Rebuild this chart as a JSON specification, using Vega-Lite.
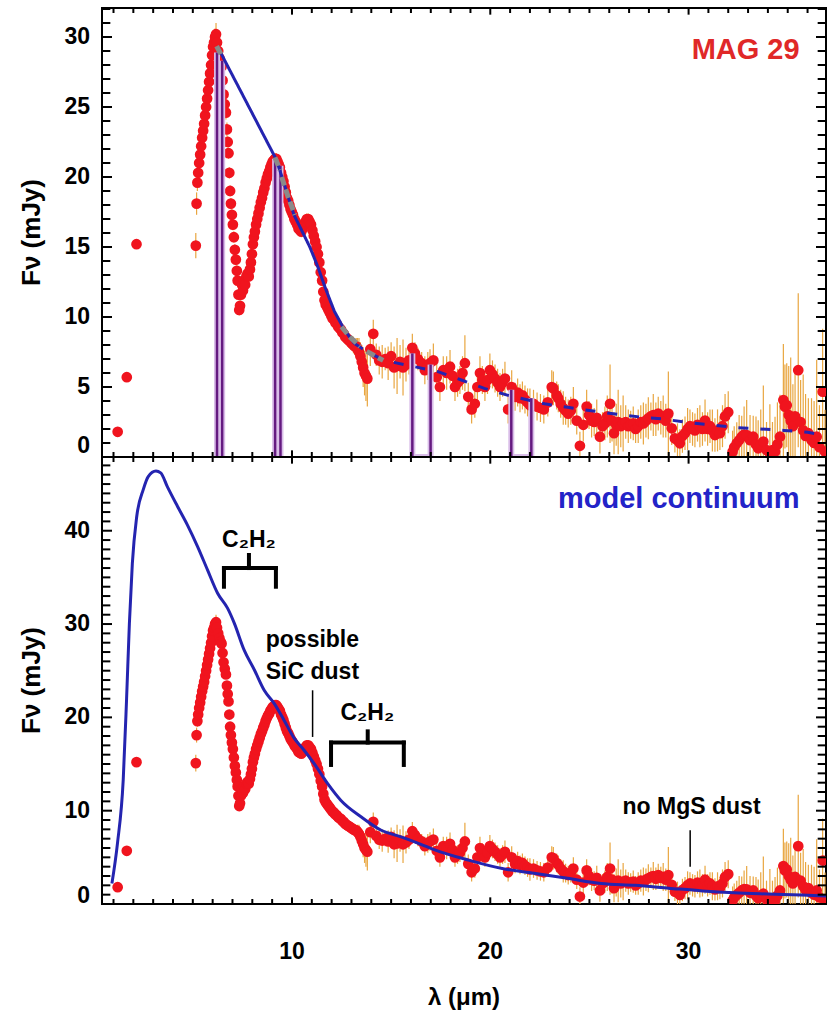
{
  "$schema": "https://vega.github.io/schema/vega-lite/v6.json",
  "padding": {"left": 18, "top": 7, "right": 0, "bottom": 0},
  "spacing": 0,
  "bounds": "flush",
  "datasets": {
    "spec": [
      {"lam":1.21,"F":1.8,"err":0.1},{"lam":1.67,"F":5.7,"err":0.1},{"lam":2.16,"F":15.2,"err":0.1},
      {"lam":5.15,"F":15.1,"err":0.9},{"lam":5.19,"F":18.1,"err":0.8},{"lam":5.23,"F":19.6,"err":0.6},{"lam":5.27,"F":20.3,"err":0.5},{"lam":5.32,"F":21.0,"err":0.4},{"lam":5.37,"F":21.6,"err":0.4},{"lam":5.42,"F":22.2,"err":0.4},{"lam":5.47,"F":22.8,"err":0.4},{"lam":5.52,"F":23.3,"err":0.4},{"lam":5.57,"F":23.8,"err":0.4},{"lam":5.62,"F":24.4,"err":0.4},{"lam":5.67,"F":25.0,"err":0.4},{"lam":5.72,"F":25.6,"err":0.4},{"lam":5.77,"F":26.2,"err":0.4},{"lam":5.82,"F":26.8,"err":0.4},{"lam":5.87,"F":27.4,"err":0.4},{"lam":5.92,"F":28.0,"err":0.4},{"lam":5.97,"F":28.7,"err":0.4},{"lam":6.02,"F":29.3,"err":0.5},{"lam":6.07,"F":29.6,"err":0.5},{"lam":6.12,"F":30.0,"err":0.6},{"lam":6.17,"F":30.2,"err":0.8},{"lam":6.22,"F":29.6,"err":0.6},{"lam":6.28,"F":29.0,"err":0.5},{"lam":6.34,"F":28.5,"err":0.5},{"lam":6.40,"F":28.1,"err":0.5},{"lam":6.45,"F":27.9,"err":0.5},{"lam":6.50,"F":26.9,"err":0.5},{"lam":6.55,"F":25.9,"err":0.5},{"lam":6.61,"F":25.2,"err":0.5},{"lam":6.67,"F":24.6,"err":0.5},{"lam":6.72,"F":23.4,"err":0.5},{"lam":6.76,"F":22.5,"err":0.4},{"lam":6.80,"F":21.7,"err":0.4},{"lam":6.84,"F":20.3,"err":0.4},{"lam":6.88,"F":19.0,"err":0.4},{"lam":6.92,"F":18.1,"err":0.4},{"lam":6.97,"F":17.3,"err":0.4},{"lam":7.02,"F":16.6,"err":0.4},{"lam":7.07,"F":15.7,"err":0.4},{"lam":7.12,"F":14.8,"err":0.4},{"lam":7.17,"F":14.1,"err":0.4},{"lam":7.22,"F":13.3,"err":0.4},{"lam":7.26,"F":12.6,"err":0.4},{"lam":7.30,"F":11.6,"err":0.4},{"lam":7.34,"F":10.5,"err":0.4},{"lam":7.38,"F":10.8,"err":0.4},{"lam":7.43,"F":11.6,"err":0.4},{"lam":7.48,"F":12.3,"err":0.4},{"lam":7.53,"F":11.9,"err":0.4},{"lam":7.58,"F":12.6,"err":0.4},{"lam":7.64,"F":12.3,"err":0.4},{"lam":7.70,"F":12.9,"err":0.4},{"lam":7.76,"F":13.1,"err":0.4},{"lam":7.82,"F":12.9,"err":0.4},{"lam":7.88,"F":13.4,"err":0.4},{"lam":7.93,"F":13.9,"err":0.4},{"lam":7.98,"F":14.5,"err":0.4},{"lam":8.03,"F":15.2,"err":0.4},{"lam":8.08,"F":15.7,"err":0.4},{"lam":8.13,"F":16.1,"err":0.4},{"lam":8.19,"F":16.6,"err":0.4},{"lam":8.25,"F":17.0,"err":0.4},{"lam":8.31,"F":17.4,"err":0.4},{"lam":8.37,"F":17.8,"err":0.4},{"lam":8.43,"F":18.2,"err":0.4},{"lam":8.49,"F":18.5,"err":0.4},{"lam":8.55,"F":18.9,"err":0.4},{"lam":8.61,"F":19.2,"err":0.4},{"lam":8.67,"F":19.6,"err":0.4},{"lam":8.73,"F":19.9,"err":0.4},{"lam":8.79,"F":20.2,"err":0.4},{"lam":8.85,"F":20.4,"err":0.4},{"lam":8.91,"F":20.7,"err":0.4},{"lam":8.97,"F":20.9,"err":0.4},{"lam":9.03,"F":21.1,"err":0.4},{"lam":9.09,"F":21.2,"err":0.4},{"lam":9.15,"F":21.3,"err":0.4},{"lam":9.21,"F":21.3,"err":0.4},{"lam":9.27,"F":21.1,"err":0.4},{"lam":9.33,"F":20.9,"err":0.4},{"lam":9.39,"F":20.7,"err":0.4},{"lam":9.45,"F":20.3,"err":0.4},{"lam":9.51,"F":20.0,"err":0.4},{"lam":9.57,"F":19.7,"err":0.4},{"lam":9.63,"F":19.3,"err":0.4},{"lam":9.69,"F":18.9,"err":0.4},{"lam":9.75,"F":18.5,"err":0.4},{"lam":9.81,"F":18.3,"err":0.4},{"lam":9.87,"F":18.0,"err":0.4},{"lam":9.93,"F":17.7,"err":0.4},{"lam":9.99,"F":17.5,"err":0.4},{"lam":10.05,"F":17.3,"err":0.4},{"lam":10.12,"F":17.0,"err":0.4},{"lam":10.19,"F":16.8,"err":0.4},{"lam":10.26,"F":16.6,"err":0.4},{"lam":10.33,"F":16.3,"err":0.4},{"lam":10.40,"F":16.2,"err":0.4},{"lam":10.47,"F":16.1,"err":0.4},{"lam":10.54,"F":16.3,"err":0.4},{"lam":10.61,"F":16.6,"err":0.4},{"lam":10.68,"F":16.8,"err":0.4},{"lam":10.75,"F":17.0,"err":0.4},{"lam":10.82,"F":17.0,"err":0.4},{"lam":10.89,"F":16.8,"err":0.4},{"lam":10.96,"F":16.6,"err":0.4},{"lam":11.03,"F":16.2,"err":0.4},{"lam":11.10,"F":15.8,"err":0.4},{"lam":11.17,"F":15.4,"err":0.4},{"lam":11.24,"F":15.0,"err":0.4},{"lam":11.31,"F":14.5,"err":0.4},{"lam":11.38,"F":13.9,"err":0.4},{"lam":11.45,"F":13.2,"err":0.4},{"lam":11.52,"F":12.6,"err":0.4},{"lam":11.58,"F":11.8,"err":0.4},{"lam":11.64,"F":11.2,"err":0.4},{"lam":11.70,"F":10.9,"err":0.4},{"lam":11.77,"F":10.7,"err":0.4},{"lam":11.84,"F":10.5,"err":0.4},{"lam":11.91,"F":10.3,"err":0.4},{"lam":11.98,"F":10.1,"err":0.4},{"lam":12.05,"F":9.9,"err":0.4},{"lam":12.12,"F":9.8,"err":0.4},{"lam":12.19,"F":9.6,"err":0.4},{"lam":12.26,"F":9.5,"err":0.4},{"lam":12.33,"F":9.3,"err":0.4},{"lam":12.40,"F":9.2,"err":0.5},{"lam":12.47,"F":9.1,"err":0.5},{"lam":12.54,"F":8.9,"err":0.5},{"lam":12.61,"F":8.8,"err":0.5},{"lam":12.68,"F":8.6,"err":0.5},{"lam":12.75,"F":8.5,"err":0.5},{"lam":12.82,"F":8.4,"err":0.5},{"lam":12.89,"F":8.3,"err":0.5},{"lam":12.96,"F":8.2,"err":0.5},{"lam":13.03,"F":8.1,"err":0.5},{"lam":13.10,"F":8.0,"err":0.6},{"lam":13.17,"F":7.9,"err":0.6},{"lam":13.24,"F":7.9,"err":0.6},{"lam":13.31,"F":7.7,"err":0.8},{"lam":13.38,"F":7.5,"err":1.0},{"lam":13.45,"F":7.2,"err":1.0},{"lam":13.52,"F":6.8,"err":1.2},{"lam":13.59,"F":6.4,"err":1.4},{"lam":13.66,"F":6.0,"err":1.6},{"lam":13.73,"F":5.8,"err":1.8},{"lam":13.80,"F":5.6,"err":2.0},
      {"lam":13.95,"F":7.7,"err":1.2},{"lam":14.10,"F":8.8,"err":1.0},{"lam":14.25,"F":7.3,"err":0.8},{"lam":14.40,"F":6.9,"err":1.0},{"lam":14.55,"F":6.8,"err":1.2},{"lam":14.70,"F":7.0,"err":0.8},{"lam":14.85,"F":6.7,"err":1.2},{"lam":15.00,"F":7.2,"err":1.0},{"lam":15.15,"F":6.4,"err":1.5},{"lam":15.30,"F":6.5,"err":2.0},{"lam":15.45,"F":6.8,"err":1.2},{"lam":15.60,"F":6.4,"err":2.0},{"lam":15.75,"F":6.6,"err":1.2},{"lam":15.90,"F":6.9,"err":1.0},{"lam":16.07,"F":7.8,"err":1.0},{"lam":16.20,"F":7.4,"err":0.8},{"lam":16.35,"F":7.0,"err":0.8},{"lam":16.54,"F":6.7,"err":0.8},{"lam":16.70,"F":6.2,"err":1.0},{"lam":16.85,"F":6.5,"err":1.0},{"lam":16.96,"F":6.7,"err":1.0},{"lam":17.13,"F":6.9,"err":1.2},{"lam":17.30,"F":5.7,"err":1.0},{"lam":17.46,"F":5.0,"err":1.0},{"lam":17.63,"F":6.2,"err":1.0},{"lam":17.80,"F":6.0,"err":1.2},{"lam":17.97,"F":6.45,"err":1.2},{"lam":18.10,"F":5.8,"err":1.0},{"lam":18.22,"F":5.0,"err":1.0},{"lam":18.35,"F":5.3,"err":1.0},{"lam":18.47,"F":5.5,"err":1.0},{"lam":18.60,"F":6.0,"err":1.2},{"lam":18.72,"F":6.7,"err":2.0},{"lam":18.89,"F":4.3,"err":1.0},{"lam":19.06,"F":3.4,"err":1.0},{"lam":19.22,"F":3.8,"err":1.0},{"lam":19.35,"F":5.0,"err":1.0},{"lam":19.48,"F":6.0,"err":1.2},{"lam":19.60,"F":5.5,"err":1.0},{"lam":19.73,"F":5.0,"err":1.0},{"lam":19.86,"F":5.5,"err":1.0},{"lam":19.98,"F":6.2,"err":1.2},{"lam":20.11,"F":5.9,"err":1.0},{"lam":20.24,"F":5.6,"err":1.0},{"lam":20.37,"F":5.3,"err":1.0},{"lam":20.49,"F":5.0,"err":1.0},{"lam":20.62,"F":5.3,"err":1.0},{"lam":20.74,"F":5.6,"err":1.2},{"lam":20.90,"F":3.4,"err":1.0},{"lam":21.08,"F":5.0,"err":1.2},{"lam":21.25,"F":4.3,"err":1.0},{"lam":21.38,"F":4.6,"err":1.0},{"lam":21.50,"F":4.2,"err":1.0},{"lam":21.62,"F":4.4,"err":1.0},{"lam":21.75,"F":4.1,"err":1.0},{"lam":21.88,"F":3.9,"err":1.0},{"lam":22.00,"F":3.7,"err":1.2},{"lam":22.18,"F":3.8,"err":1.0},{"lam":22.36,"F":3.6,"err":1.0},{"lam":22.53,"F":3.5,"err":1.0},{"lam":22.70,"F":3.4,"err":1.0},{"lam":22.90,"F":3.9,"err":1.0},{"lam":23.10,"F":5.0,"err":1.2},{"lam":23.18,"F":4.9,"err":1.2},{"lam":23.35,"F":4.4,"err":1.0},{"lam":23.43,"F":4.2,"err":1.0},{"lam":23.55,"F":3.8,"err":1.0},{"lam":23.68,"F":3.5,"err":1.2},{"lam":23.80,"F":3.3,"err":1.0},{"lam":23.93,"F":3.1,"err":1.0},{"lam":24.06,"F":3.3,"err":1.0},{"lam":24.19,"F":3.8,"err":1.2},{"lam":24.36,"F":2.6,"err":1.0},{"lam":24.52,"F":0.8,"err":1.0},{"lam":24.69,"F":2.3,"err":1.2},{"lam":24.86,"F":3.6,"err":1.2},{"lam":24.98,"F":3.0,"err":1.0},{"lam":25.11,"F":2.6,"err":1.2},{"lam":25.24,"F":2.5,"err":1.0},{"lam":25.37,"F":2.8,"err":1.3},{"lam":25.53,"F":1.45,"err":1.2},{"lam":25.66,"F":2.2,"err":1.0},{"lam":25.78,"F":2.4,"err":1.2},{"lam":25.90,"F":2.9,"err":1.5},{"lam":26.04,"F":3.8,"err":2.8},{"lam":26.14,"F":2.6,"err":1.5},{"lam":26.24,"F":1.7,"err":1.5},{"lam":26.35,"F":2.3,"err":1.5},{"lam":26.45,"F":2.5,"err":2.3},{"lam":26.58,"F":2.2,"err":1.5},{"lam":26.70,"F":2.4,"err":2.0},{"lam":26.83,"F":2.5,"err":1.2},{"lam":26.96,"F":2.2,"err":1.2},{"lam":27.08,"F":2.3,"err":1.0},{"lam":27.21,"F":2.4,"err":1.2},{"lam":27.33,"F":2.0,"err":1.0},{"lam":27.46,"F":2.2,"err":1.2},{"lam":27.59,"F":2.5,"err":1.2},{"lam":27.72,"F":2.4,"err":1.5},{"lam":27.85,"F":2.6,"err":1.2},{"lam":27.97,"F":2.76,"err":1.5},{"lam":28.10,"F":2.9,"err":1.0},{"lam":28.22,"F":3.0,"err":1.5},{"lam":28.35,"F":2.7,"err":1.2},{"lam":28.47,"F":3.1,"err":1.2},{"lam":28.60,"F":2.8,"err":1.2},{"lam":28.72,"F":2.9,"err":1.5},{"lam":28.85,"F":2.6,"err":1.2},{"lam":28.98,"F":3.1,"err":3.0},{"lam":29.15,"F":2.05,"err":1.2},{"lam":29.31,"F":1.33,"err":1.0},{"lam":29.44,"F":1.2,"err":1.2},{"lam":29.56,"F":0.98,"err":1.0},{"lam":29.69,"F":1.5,"err":1.2},{"lam":29.82,"F":1.7,"err":1.2},{"lam":29.95,"F":2.0,"err":1.5},{"lam":30.07,"F":2.2,"err":1.2},{"lam":30.20,"F":2.0,"err":1.2},{"lam":30.32,"F":1.9,"err":1.2},{"lam":30.45,"F":2.3,"err":1.2},{"lam":30.57,"F":2.2,"err":1.5},{"lam":30.70,"F":2.0,"err":1.2},{"lam":30.83,"F":2.6,"err":1.5},{"lam":30.96,"F":2.0,"err":1.2},{"lam":31.08,"F":2.2,"err":1.2},{"lam":31.20,"F":1.9,"err":1.5},{"lam":31.33,"F":1.57,"err":1.2},{"lam":31.46,"F":1.9,"err":1.5},{"lam":31.58,"F":1.7,"err":1.2},{"lam":31.71,"F":2.2,"err":1.5},{"lam":31.84,"F":2.9,"err":1.6},{"lam":32.00,"F":3.2,"err":1.5},{"lam":32.22,"F":0.38,"err":1.5},{"lam":32.30,"F":0.7,"err":1.5},{"lam":32.43,"F":0.98,"err":1.5},{"lam":32.55,"F":1.2,"err":1.8},{"lam":32.68,"F":1.45,"err":1.5},{"lam":32.80,"F":1.6,"err":2.0},{"lam":32.93,"F":1.57,"err":2.5},{"lam":33.10,"F":1.2,"err":1.8},{"lam":33.26,"F":1.45,"err":1.5},{"lam":33.40,"F":0.9,"err":2.0},{"lam":33.51,"F":0.62,"err":2.0},{"lam":33.64,"F":0.9,"err":2.5},{"lam":33.77,"F":1.1,"err":4.0},{"lam":33.93,"F":0.5,"err":2.0},{"lam":34.10,"F":0.26,"err":3.5},{"lam":34.23,"F":0.5,"err":2.0},{"lam":34.36,"F":0.38,"err":2.5},{"lam":34.48,"F":0.9,"err":3.0},{"lam":34.61,"F":1.45,"err":3.0},{"lam":34.78,"F":4.07,"err":4.0},{"lam":34.86,"F":3.6,"err":3.0},{"lam":34.95,"F":3.7,"err":3.0},{"lam":35.05,"F":3.0,"err":3.5},{"lam":35.15,"F":2.6,"err":4.5},{"lam":35.26,"F":2.2,"err":3.0},{"lam":35.37,"F":2.9,"err":3.5},{"lam":35.53,"F":6.2,"err":5.5},{"lam":35.65,"F":2.5,"err":3.0},{"lam":35.78,"F":1.9,"err":4.0},{"lam":35.90,"F":1.5,"err":3.0},{"lam":36.04,"F":1.7,"err":2.5},{"lam":36.20,"F":1.2,"err":3.0},{"lam":36.33,"F":1.0,"err":3.0},{"lam":36.46,"F":1.45,"err":5.5},{"lam":36.60,"F":0.7,"err":3.0},{"lam":36.76,"F":4.66,"err":4.5},{"lam":36.88,"F":0.38,"err":3.0}
    ],
    "cont": [
      {"lam":6.25,"F":29.3,"style":"solid"},{"lam":9.19,"F":21.3,"style":"solid"},{"lam":9.5,"F":20.0,"style":"solid"},{"lam":9.78,"F":18.7,"style":"solid"},{"lam":10.1,"F":17.3,"style":"solid"},{"lam":10.45,"F":16.3,"style":"solid"},{"lam":10.9,"F":15.0,"style":"solid"},{"lam":11.3,"F":13.6,"style":"solid"},{"lam":11.7,"F":12.0,"style":"solid"},{"lam":12.14,"F":10.4,"style":"solid"},{"lam":12.64,"F":9.1,"style":"solid"},{"lam":13.15,"F":8.1,"style":"solid"},
      {"lam":13.15,"F":8.1,"style":"dashed"},{"lam":13.82,"F":7.5,"style":"dashed"},{"lam":14.66,"F":6.9,"style":"dashed"},{"lam":16.0,"F":6.5,"style":"dashed"},{"lam":17.36,"F":6.1,"style":"dashed"},{"lam":18.54,"F":5.5,"style":"dashed"},{"lam":19.7,"F":4.9,"style":"dashed"},{"lam":20.9,"F":4.4,"style":"dashed"},{"lam":22.74,"F":3.8,"style":"dashed"},{"lam":23.9,"F":3.55,"style":"dashed"},{"lam":25.1,"F":3.3,"style":"dashed"},{"lam":26.4,"F":3.05,"style":"dashed"},{"lam":27.6,"F":2.85,"style":"dashed"},{"lam":28.8,"F":2.7,"style":"dashed"},{"lam":30.0,"F":2.45,"style":"dashed"},{"lam":31.2,"F":2.28,"style":"dashed"},{"lam":32.4,"F":2.1,"style":"dashed"},{"lam":33.6,"F":2.0,"style":"dashed"},{"lam":34.8,"F":1.9,"style":"dashed"},{"lam":36.0,"F":1.76,"style":"dashed"},{"lam":36.93,"F":1.55,"style":"dashed"}
    ],
    "anch": [
      {"lam":6.2,"F":29.35,"seg":"A"},{"lam":6.46,"F":28.65,"seg":"A"},
      {"lam":9.14,"F":21.4,"seg":"B"},{"lam":9.4,"F":20.5,"seg":"B"},
      {"lam":9.48,"F":20.0,"seg":"C"},{"lam":9.8,"F":18.6,"seg":"C"},{"lam":10.15,"F":17.3,"seg":"C"},
      {"lam":12.5,"F":9.3,"seg":"D"},{"lam":12.9,"F":8.6,"seg":"D"},{"lam":13.43,"F":7.9,"seg":"D"},
      {"lam":13.77,"F":7.55,"seg":"E"},{"lam":14.2,"F":7.2,"seg":"E"},{"lam":14.6,"F":6.9,"seg":"E"}
    ],
    "purple": [
      {"x":6.22,"x2":6.22,"y":0,"y2":28.9},{"x":6.48,"x2":6.48,"y":0,"y2":28.3},{"x":6.22,"x2":6.48,"y":0,"y2":0},
      {"x":9.15,"x2":9.15,"y":0,"y2":21.3},{"x":9.42,"x2":9.42,"y":0,"y2":20.8},{"x":9.15,"x2":9.42,"y":0,"y2":0},
      {"x":16.07,"x2":16.07,"y":0,"y2":7.4},{"x":16.99,"x2":16.99,"y":0,"y2":6.6},{"x":16.07,"x2":16.99,"y":0,"y2":0},
      {"x":21.06,"x2":21.06,"y":0,"y2":4.8},{"x":22.07,"x2":22.07,"y":0,"y2":4.2},{"x":21.06,"x2":22.07,"y":0,"y2":0}
    ],
    "model": [
      {"lam":0.92,"F":2.2},{"lam":1.2,"F":6.5},{"lam":1.49,"F":13.3},{"lam":1.66,"F":22.0},{"lam":1.8,"F":30.0},{"lam":1.95,"F":36.5},{"lam":2.17,"F":41.5},{"lam":2.5,"F":44.4},{"lam":2.75,"F":45.8},{"lam":3.14,"F":46.4},{"lam":3.38,"F":46.2},{"lam":3.72,"F":44.7},{"lam":4.23,"F":42.6},{"lam":4.73,"F":40.6},{"lam":5.24,"F":38.3},{"lam":5.74,"F":35.8},{"lam":6.25,"F":33.3},{"lam":6.75,"F":31.7},{"lam":7.09,"F":30.1},{"lam":7.59,"F":27.2},{"lam":8.1,"F":25.1},{"lam":8.6,"F":22.9},{"lam":9.1,"F":21.5},{"lam":9.6,"F":19.7},{"lam":10.1,"F":17.8},{"lam":10.6,"F":16.5},{"lam":11.1,"F":15.1},{"lam":11.8,"F":12.9},{"lam":12.47,"F":11.1},{"lam":13.48,"F":9.35},{"lam":14.5,"F":7.9},{"lam":15.5,"F":7.2},{"lam":16.5,"F":6.4},{"lam":17.2,"F":5.8},{"lam":18.9,"F":4.7},{"lam":20.6,"F":3.8},{"lam":22.2,"F":3.3},{"lam":23.9,"F":2.75},{"lam":25.6,"F":2.2},{"lam":27.3,"F":2.0},{"lam":29.0,"F":1.7},{"lam":30.7,"F":1.4},{"lam":32.3,"F":1.2},{"lam":34.0,"F":1.07},{"lam":35.7,"F":0.96},{"lam":36.93,"F":0.86}
    ],
    "brackets": [
      {"x":6.57,"x2":9.19,"y":36.0,"y2":36.0,"kind":"bracket"},{"x":6.57,"x2":6.57,"y":36.0,"y2":34.0,"kind":"bracket"},{"x":9.19,"x2":9.19,"y":36.0,"y2":34.0,"kind":"bracket"},{"x":7.83,"x2":7.83,"y":36.0,"y2":37.4,"kind":"bracket"},
      {"x":11.97,"x2":15.64,"y":17.3,"y2":17.3,"kind":"bracket"},{"x":11.97,"x2":11.97,"y":17.3,"y2":14.9,"kind":"bracket"},{"x":15.64,"x2":15.64,"y":17.3,"y2":14.9,"kind":"bracket"},{"x":13.82,"x2":13.82,"y":17.3,"y2":18.5,"kind":"bracket"},
      {"x":11.04,"x2":11.04,"y":17.9,"y2":22.9,"kind":"pointer"},{"x":30.08,"x2":30.08,"y":4.0,"y2":7.9,"kind":"pointer"}
    ],
    "notes": [
      {"lam":7.83,"F":39.0,"label":"C₂H₂"},{"lam":13.8,"F":20.5,"label":"C₂H₂"},{"lam":11.03,"F":28.3,"label":"possible"},{"lam":11.03,"F":24.9,"label":"SiC dust"},{"lam":30.15,"F":10.4,"label":"no MgS dust"}
    ],
    "xt": [
      {"v":1,"kind":"xminor"},{"v":2,"kind":"xminor"},{"v":3,"kind":"xminor"},{"v":4,"kind":"xminor"},{"v":5,"kind":"xminor"},{"v":6,"kind":"xminor"},{"v":7,"kind":"xminor"},{"v":8,"kind":"xminor"},{"v":9,"kind":"xminor"},{"v":10,"kind":"xmajor"},
      {"v":11,"kind":"xminor"},{"v":12,"kind":"xminor"},{"v":13,"kind":"xminor"},{"v":14,"kind":"xminor"},{"v":15,"kind":"xminor"},{"v":16,"kind":"xminor"},{"v":17,"kind":"xminor"},{"v":18,"kind":"xminor"},{"v":19,"kind":"xminor"},{"v":20,"kind":"xmajor"},
      {"v":21,"kind":"xminor"},{"v":22,"kind":"xminor"},{"v":23,"kind":"xminor"},{"v":24,"kind":"xminor"},{"v":25,"kind":"xminor"},{"v":26,"kind":"xminor"},{"v":27,"kind":"xminor"},{"v":28,"kind":"xminor"},{"v":29,"kind":"xminor"},{"v":30,"kind":"xmajor"},
      {"v":31,"kind":"xminor"},{"v":32,"kind":"xminor"},{"v":33,"kind":"xminor"},{"v":34,"kind":"xminor"},{"v":35,"kind":"xminor"},{"v":36,"kind":"xminor"}
    ],
    "yt1": [
      {"v":0,"kind":"ymajor"},{"v":1,"kind":"yminor"},{"v":2,"kind":"yminor"},{"v":3,"kind":"yminor"},{"v":4,"kind":"yminor"},{"v":5,"kind":"ymajor"},{"v":6,"kind":"yminor"},{"v":7,"kind":"yminor"},{"v":8,"kind":"yminor"},{"v":9,"kind":"yminor"},{"v":10,"kind":"ymajor"},
      {"v":11,"kind":"yminor"},{"v":12,"kind":"yminor"},{"v":13,"kind":"yminor"},{"v":14,"kind":"yminor"},{"v":15,"kind":"ymajor"},{"v":16,"kind":"yminor"},{"v":17,"kind":"yminor"},{"v":18,"kind":"yminor"},{"v":19,"kind":"yminor"},{"v":20,"kind":"ymajor"},
      {"v":21,"kind":"yminor"},{"v":22,"kind":"yminor"},{"v":23,"kind":"yminor"},{"v":24,"kind":"yminor"},{"v":25,"kind":"ymajor"},{"v":26,"kind":"yminor"},{"v":27,"kind":"yminor"},{"v":28,"kind":"yminor"},{"v":29,"kind":"yminor"},{"v":30,"kind":"ymajor"},
      {"v":31,"kind":"yminor"},{"v":32,"kind":"yminor"}
    ],
    "yt2": [
      {"v":0,"kind":"ymajor"},{"v":1,"kind":"yminor"},{"v":2,"kind":"yminor"},{"v":3,"kind":"yminor"},{"v":4,"kind":"yminor"},{"v":5,"kind":"yminor"},{"v":6,"kind":"yminor"},{"v":7,"kind":"yminor"},{"v":8,"kind":"yminor"},{"v":9,"kind":"yminor"},{"v":10,"kind":"ymajor"},
      {"v":11,"kind":"yminor"},{"v":12,"kind":"yminor"},{"v":13,"kind":"yminor"},{"v":14,"kind":"yminor"},{"v":15,"kind":"yminor"},{"v":16,"kind":"yminor"},{"v":17,"kind":"yminor"},{"v":18,"kind":"yminor"},{"v":19,"kind":"yminor"},{"v":20,"kind":"ymajor"},
      {"v":21,"kind":"yminor"},{"v":22,"kind":"yminor"},{"v":23,"kind":"yminor"},{"v":24,"kind":"yminor"},{"v":25,"kind":"yminor"},{"v":26,"kind":"yminor"},{"v":27,"kind":"yminor"},{"v":28,"kind":"yminor"},{"v":29,"kind":"yminor"},{"v":30,"kind":"ymajor"},
      {"v":31,"kind":"yminor"},{"v":32,"kind":"yminor"},{"v":33,"kind":"yminor"},{"v":34,"kind":"yminor"},{"v":35,"kind":"yminor"},{"v":36,"kind":"yminor"},{"v":37,"kind":"yminor"},{"v":38,"kind":"yminor"},{"v":39,"kind":"yminor"},{"v":40,"kind":"ymajor"},
      {"v":41,"kind":"yminor"},{"v":42,"kind":"yminor"},{"v":43,"kind":"yminor"},{"v":44,"kind":"yminor"},{"v":45,"kind":"yminor"},{"v":46,"kind":"yminor"},{"v":47,"kind":"yminor"}
    ],
    "ylab1": [{"v":5,"label":"5"},{"v":10,"label":"10"},{"v":15,"label":"15"},{"v":20,"label":"20"},{"v":25,"label":"25"},{"v":30,"label":"30"}],
    "ylab2": [{"v":10,"label":"10"},{"v":20,"label":"20"},{"v":30,"label":"30"},{"v":40,"label":"40"}],
    "xlab": [{"v":10,"label":"10"},{"v":20,"label":"20"},{"v":30,"label":"30"}]
  },
  "vconcat": [
    {
      "width": 724, "height": 449,
      "encoding": {
        "x": {"type": "quantitative", "scale": {"domain": [0.42, 36.93], "nice": false, "zero": false}, "axis": null},
        "y": {"type": "quantitative", "scale": {"domain": [0, 32.07], "nice": false, "zero": false}, "axis": null}
      },
      "layer": [
        {"data": {"name": "spec"}, "mark": {"type": "errorbar", "color": "#e9a640", "thickness": 1.2, "clip": true},
         "encoding": {"x": {"field": "lam", "type": "quantitative"}, "y": {"field": "F", "type": "quantitative"}, "yError": {"field": "err"}}},
        {"data": {"name": "spec"}, "mark": {"type": "circle", "size": 115, "color": "#f0141e", "opacity": 1, "clip": true},
         "encoding": {"x": {"field": "lam", "type": "quantitative"}, "y": {"field": "F", "type": "quantitative"}}},
        {"data": {"name": "purple"}, "mark": {"type": "rule", "color": "#d9bde8", "strokeWidth": 6, "clip": true},
         "encoding": {"x": {"field": "x", "type": "quantitative"}, "x2": {"field": "x2"}, "y": {"field": "y", "type": "quantitative"}, "y2": {"field": "y2"}}},
        {"data": {"name": "purple"}, "transform": [{"filter": "datum.x === datum.x2"}], "mark": {"type": "rule", "color": "#641a80", "strokeWidth": 2.5, "clip": true},
         "encoding": {"x": {"field": "x", "type": "quantitative"}, "x2": {"field": "x2"}, "y": {"field": "y", "type": "quantitative"}, "y2": {"field": "y2"}}},
        {"data": {"name": "cont"}, "mark": {"type": "line", "color": "#2424b0", "strokeWidth": 3, "clip": true},
         "encoding": {"x": {"field": "lam", "type": "quantitative"}, "y": {"field": "F", "type": "quantitative"},
                      "strokeDash": {"field": "style", "type": "nominal", "scale": {"domain": ["solid", "dashed"], "range": [[1, 0], [10, 12]]}, "legend": null}}},
        {"data": {"name": "anch"}, "mark": {"type": "line", "color": "#8a8a8a", "strokeWidth": 5, "strokeDash": [9, 4], "clip": true},
         "encoding": {"x": {"field": "lam", "type": "quantitative"}, "y": {"field": "F", "type": "quantitative"}, "detail": {"field": "seg", "type": "nominal"}}},
        {"data": {"values": [{"lam": 35.6, "F": 29.1, "label": "MAG 29"}]}, "mark": {"type": "text", "align": "right", "baseline": "middle", "fontSize": 29, "fontWeight": "bold", "color": "#e02828", "font": "Liberation Sans"},
         "encoding": {"x": {"field": "lam", "type": "quantitative"}, "y": {"field": "F", "type": "quantitative"}, "text": {"field": "label"}}},
        {"data": {"name": "yt1"}, "mark": {"type": "tick", "orient": "horizontal", "thickness": 2, "color": "black", "opacity": 1, "clip": true},
         "encoding": {"x": {"datum": 0.42, "type": "quantitative"}, "y": {"field": "v", "type": "quantitative"},
                      "size": {"field": "kind", "type": "nominal", "scale": {"domain": ["xminor", "xmajor", "yminor", "ymajor"], "range": [10, 20, 16, 30]}, "legend": null}}},
        {"data": {"name": "yt1"}, "mark": {"type": "tick", "orient": "horizontal", "thickness": 2, "color": "black", "opacity": 1, "clip": true},
         "encoding": {"x": {"datum": 36.93, "type": "quantitative"}, "y": {"field": "v", "type": "quantitative"},
                      "size": {"field": "kind", "type": "nominal", "scale": {"domain": ["xminor", "xmajor", "yminor", "ymajor"], "range": [10, 20, 16, 30]}, "legend": null}}},
        {"data": {"name": "xt"}, "mark": {"type": "tick", "orient": "vertical", "thickness": 2, "color": "black", "opacity": 1, "clip": true},
         "encoding": {"x": {"field": "v", "type": "quantitative"}, "y": {"datum": 0, "type": "quantitative"},
                      "size": {"field": "kind", "type": "nominal", "scale": {"domain": ["xminor", "xmajor", "yminor", "ymajor"], "range": [10, 20, 16, 30]}, "legend": null}}},
        {"data": {"name": "xt"}, "mark": {"type": "tick", "orient": "vertical", "thickness": 2, "color": "black", "opacity": 1, "clip": true},
         "encoding": {"x": {"field": "v", "type": "quantitative"}, "y": {"datum": 32.07, "type": "quantitative"},
                      "size": {"field": "kind", "type": "nominal", "scale": {"domain": ["xminor", "xmajor", "yminor", "ymajor"], "range": [10, 20, 16, 30]}, "legend": null}}},
        {"data": {"name": "ylab1"}, "mark": {"type": "text", "align": "right", "baseline": "middle", "dx": -12, "fontSize": 23, "fontWeight": "bold", "color": "black", "font": "Liberation Sans"},
         "encoding": {"x": {"datum": 0.42, "type": "quantitative"}, "y": {"field": "v", "type": "quantitative"}, "text": {"field": "label"}}},
        {"data": {"values": [{"v": 0, "label": "0"}]}, "mark": {"type": "text", "align": "right", "baseline": "bottom", "dx": -12, "dy": 1, "fontSize": 23, "fontWeight": "bold", "color": "black", "font": "Liberation Sans"},
         "encoding": {"x": {"datum": 0.42, "type": "quantitative"}, "y": {"field": "v", "type": "quantitative"}, "text": {"field": "label"}}},
        {"data": {"values": [{"label": "Fν (mJy)"}]}, "mark": {"type": "text", "angle": 270, "align": "center", "baseline": "alphabetic", "dy": -62, "fontSize": 26, "fontWeight": "bold", "color": "black", "font": "Liberation Sans"},
         "encoding": {"x": {"datum": 0.42, "type": "quantitative"}, "y": {"datum": 16.035, "type": "quantitative"}, "text": {"field": "label"}}}
      ]
    },
    {
      "width": 724, "height": 447,
      "encoding": {
        "x": {"type": "quantitative", "scale": {"domain": [0.42, 36.93], "nice": false, "zero": false}, "axis": null},
        "y": {"type": "quantitative", "scale": {"domain": [0, 47.9], "nice": false, "zero": false}, "axis": null}
      },
      "layer": [
        {"data": {"name": "spec"}, "mark": {"type": "errorbar", "color": "#e9a640", "thickness": 1.2, "clip": true},
         "encoding": {"x": {"field": "lam", "type": "quantitative"}, "y": {"field": "F", "type": "quantitative"}, "yError": {"field": "err"}}},
        {"data": {"name": "spec"}, "mark": {"type": "circle", "size": 115, "color": "#f0141e", "opacity": 1, "clip": true},
         "encoding": {"x": {"field": "lam", "type": "quantitative"}, "y": {"field": "F", "type": "quantitative"}}},
        {"data": {"name": "model"}, "mark": {"type": "line", "color": "#2424b0", "strokeWidth": 3, "interpolate": "monotone", "clip": true},
         "encoding": {"x": {"field": "lam", "type": "quantitative"}, "y": {"field": "F", "type": "quantitative"}}},
        {"data": {"name": "brackets"}, "transform": [{"filter": "datum.kind === 'bracket'"}], "mark": {"type": "rule", "color": "black", "strokeWidth": 4, "strokeCap": "square"},
         "encoding": {"x": {"field": "x", "type": "quantitative"}, "x2": {"field": "x2"}, "y": {"field": "y", "type": "quantitative"}, "y2": {"field": "y2"}}},
        {"data": {"name": "brackets"}, "transform": [{"filter": "datum.kind === 'pointer'"}], "mark": {"type": "rule", "color": "black", "strokeWidth": 1.5},
         "encoding": {"x": {"field": "x", "type": "quantitative"}, "x2": {"field": "x2"}, "y": {"field": "y", "type": "quantitative"}, "y2": {"field": "y2"}}},
        {"data": {"name": "notes"}, "mark": {"type": "text", "align": "center", "baseline": "middle", "fontSize": 23, "fontWeight": "bold", "color": "black", "font": "Liberation Sans"},
         "encoding": {"x": {"field": "lam", "type": "quantitative"}, "y": {"field": "F", "type": "quantitative"}, "text": {"field": "label"}}},
        {"data": {"values": [{"lam": 35.6, "F": 43.4, "label": "model continuum"}]}, "mark": {"type": "text", "align": "right", "baseline": "middle", "fontSize": 29, "fontWeight": "bold", "color": "#2323c8", "font": "Liberation Sans"},
         "encoding": {"x": {"field": "lam", "type": "quantitative"}, "y": {"field": "F", "type": "quantitative"}, "text": {"field": "label"}}},
        {"data": {"name": "yt2"}, "mark": {"type": "tick", "orient": "horizontal", "thickness": 2, "color": "black", "opacity": 1, "clip": true},
         "encoding": {"x": {"datum": 0.42, "type": "quantitative"}, "y": {"field": "v", "type": "quantitative"},
                      "size": {"field": "kind", "type": "nominal", "scale": {"domain": ["xminor", "xmajor", "yminor", "ymajor"], "range": [10, 20, 16, 30]}, "legend": null}}},
        {"data": {"name": "yt2"}, "mark": {"type": "tick", "orient": "horizontal", "thickness": 2, "color": "black", "opacity": 1, "clip": true},
         "encoding": {"x": {"datum": 36.93, "type": "quantitative"}, "y": {"field": "v", "type": "quantitative"},
                      "size": {"field": "kind", "type": "nominal", "scale": {"domain": ["xminor", "xmajor", "yminor", "ymajor"], "range": [10, 20, 16, 30]}, "legend": null}}},
        {"data": {"name": "xt"}, "mark": {"type": "tick", "orient": "vertical", "thickness": 2, "color": "black", "opacity": 1, "clip": true},
         "encoding": {"x": {"field": "v", "type": "quantitative"}, "y": {"datum": 0, "type": "quantitative"},
                      "size": {"field": "kind", "type": "nominal", "scale": {"domain": ["xminor", "xmajor", "yminor", "ymajor"], "range": [10, 20, 16, 30]}, "legend": null}}},
        {"data": {"name": "xt"}, "mark": {"type": "tick", "orient": "vertical", "thickness": 2, "color": "black", "opacity": 1, "clip": true},
         "encoding": {"x": {"field": "v", "type": "quantitative"}, "y": {"datum": 47.9, "type": "quantitative"},
                      "size": {"field": "kind", "type": "nominal", "scale": {"domain": ["xminor", "xmajor", "yminor", "ymajor"], "range": [10, 20, 16, 30]}, "legend": null}}},
        {"data": {"name": "ylab2"}, "mark": {"type": "text", "align": "right", "baseline": "middle", "dx": -12, "fontSize": 23, "fontWeight": "bold", "color": "black", "font": "Liberation Sans"},
         "encoding": {"x": {"datum": 0.42, "type": "quantitative"}, "y": {"field": "v", "type": "quantitative"}, "text": {"field": "label"}}},
        {"data": {"values": [{"v": 0, "label": "0"}]}, "mark": {"type": "text", "align": "right", "baseline": "bottom", "dx": -12, "dy": 4, "fontSize": 23, "fontWeight": "bold", "color": "black", "font": "Liberation Sans"},
         "encoding": {"x": {"datum": 0.42, "type": "quantitative"}, "y": {"field": "v", "type": "quantitative"}, "text": {"field": "label"}}},
        {"data": {"values": [{"label": "Fν (mJy)"}]}, "mark": {"type": "text", "angle": 270, "align": "center", "baseline": "alphabetic", "dy": -62, "fontSize": 26, "fontWeight": "bold", "color": "black", "font": "Liberation Sans"},
         "encoding": {"x": {"datum": 0.42, "type": "quantitative"}, "y": {"datum": 23.95, "type": "quantitative"}, "text": {"field": "label"}}},
        {"data": {"name": "xlab"}, "mark": {"type": "text", "align": "center", "baseline": "top", "dy": 37, "fontSize": 23, "fontWeight": "bold", "color": "black", "font": "Liberation Sans"},
         "encoding": {"x": {"field": "v", "type": "quantitative"}, "y": {"datum": 0, "type": "quantitative"}, "text": {"field": "label"}}},
        {"data": {"values": [{"label": "λ (μm)"}]}, "mark": {"type": "text", "align": "center", "baseline": "middle", "dy": 94, "fontSize": 24, "fontWeight": "bold", "color": "black", "font": "Liberation Sans"},
         "encoding": {"x": {"datum": 18.675, "type": "quantitative"}, "y": {"datum": 0, "type": "quantitative"}, "text": {"field": "label"}}}
      ]
    }
  ],
  "config": {
    "view": {"stroke": "black", "strokeWidth": 2},
    "font": "Liberation Sans"
  }
}
